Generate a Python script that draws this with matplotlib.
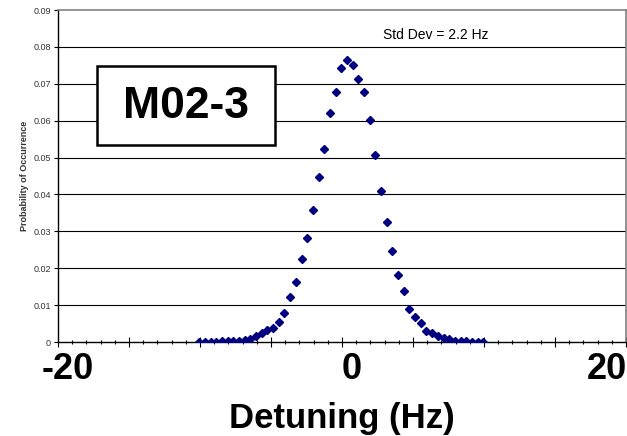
import matplotlib
matplotlib.use("Agg")
import matplotlib.pyplot as plt
from matplotlib.patches import Rectangle
from matplotlib.transforms import ScaledTranslation
from matplotlib.ticker import MultipleLocator

# Data (detuning in Hz, probability of occurrence)
detuning = [-10.05, -9.65, -9.25, -8.85, -8.45, -8.05, -7.65, -7.25, -6.85, -6.45,
            -6.05, -5.65, -5.25, -4.85, -4.45, -4.05, -3.65, -3.25, -2.85, -2.45,
            -2.05, -1.65, -1.25, -0.85, -0.45, -0.05, 0.35, 0.75, 1.15, 1.55,
            1.95, 2.35, 2.75, 3.15, 3.55, 3.95, 4.35, 4.75, 5.15, 5.55,
            5.95, 6.35, 6.75, 7.15, 7.55, 7.95, 8.35, 8.75, 9.15, 9.55, 9.95]
probability = [0.0001, 0.0001, 0.0001, 0.0001, 0.0002, 0.0002, 0.0003, 0.0004, 0.0006, 0.0009,
               0.0016, 0.0024, 0.0033, 0.0039, 0.0055, 0.0079, 0.0121, 0.0163, 0.0224, 0.0281,
               0.0358, 0.0447, 0.0523, 0.0620, 0.0678, 0.0743, 0.0764, 0.0751, 0.0713, 0.0677,
               0.0602, 0.0507, 0.0409, 0.0326, 0.0247, 0.0182, 0.0138, 0.0089, 0.0069, 0.0051,
               0.0030, 0.0024, 0.0016, 0.0012, 0.0007, 0.0004, 0.0003, 0.0002, 0.0001, 0.0001, 0.0001]

x_tick_values = [-20, 0, 20]
x_tick_labels = ["-20", "0", "20"]
y_tick_values = [0, 0.01, 0.02, 0.03, 0.04, 0.05, 0.06, 0.07, 0.08, 0.09]
y_tick_labels = ["0", "0.01", "0.02", "0.03", "0.04", "0.05", "0.06", "0.07", "0.08", "0.09"]

title_box_text = "M02-3"
std_text = "Std Dev = 2.2 Hz"
x_label = "Detuning (Hz)"
y_label = "Probability of Occurrence"

plt.rcParams['font.family'] = ['Liberation Sans', 'DejaVu Sans']

fig = plt.figure(figsize=(6.27, 4.36), dpi=100)
ax = fig.add_axes([58/627, 1 - 342/436, (626 - 58)/627, (342 - 10)/436])

ax.plot(detuning, probability, linestyle='none', marker='D', markersize=4.0,
        color='#000080', markeredgecolor='#000080', zorder=3)

ax.set_xlim(-20, 20)
ax.set_ylim(0, 0.09)

# grid lines
for v in y_tick_values[1:-1]:
    ax.axhline(v, color='black', lw=0.8, zorder=1)

for side in ['top', 'right']:
    ax.spines[side].set_color('#808080')
    ax.spines[side].set_linewidth(1.2)
for side in ['left', 'bottom']:
    ax.spines[side].set_color('black')
    ax.spines[side].set_linewidth(1.0)

ax.set_yticks(y_tick_values)
ax.set_yticklabels(y_tick_labels, fontsize=6.5, color='#333333')
ax.tick_params(axis='y', direction='out', length=3, width=0.8, pad=2)

ax.xaxis.set_minor_locator(MultipleLocator(1))
major_pos = list(range(-20, 25, 5))
major_labels = [x_tick_labels[x_tick_values.index(t)] if t in x_tick_values else "" for t in major_pos]
ax.set_xticks(major_pos)
ax.set_xticklabels(major_labels, fontsize=26, fontweight='bold')
ax.tick_params(axis='x', which='major', direction='inout', length=7, width=0.8, pad=4)
ax.tick_params(axis='x', which='minor', direction='inout', length=3, width=0.8)
label_shift_px = {"-20": 10, "0": 10, "20": -19}
for lab, txt in zip(ax.get_xticklabels(), major_labels):
    if txt:
        off = ScaledTranslation(label_shift_px[txt]/100, 0, fig.dpi_scale_trans)
        lab.set_transform(lab.get_transform() + off)
    lab.set_clip_on(False)

ax.set_xlabel(x_label, fontsize=25, fontweight='bold', labelpad=0)
ax.xaxis.set_label_coords(0.5, -0.181)
ax.set_ylabel(y_label, fontsize=6.5, fontweight='bold', color='#333333')
ax.yaxis.set_label_coords(-0.051, 0.5)

# Std dev annotation
fig.text(383/627, 1 - 35/436, std_text, fontsize=10, ha='left', va='center')

# Boxed label
rect = Rectangle((97/627, 1 - 145/436), 178/627, 79/436, transform=fig.transFigure,
                 facecolor='white', edgecolor='black', linewidth=1.8, zorder=5)
fig.patches.append(rect)
fig.text(186/627, 1 - 106/436, title_box_text, fontsize=32, fontweight='bold',
         ha='center', va='center', zorder=6)

fig.savefig("out.png", dpi=100)
